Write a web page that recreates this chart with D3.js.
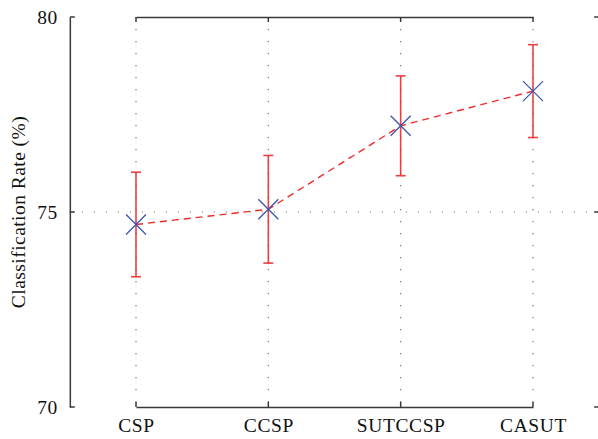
<!DOCTYPE html>
<html><head><meta charset="utf-8">
<script src="https://cdn.jsdelivr.net/npm/d3@7/dist/d3.min.js"></script>
<style>body{margin:0;background:#fff}svg{display:block}</style>
</head><body>
<svg id="c" width="598" height="439"></svg>
<script>
const categories = ["CSP", "CCSP", "SUTCCSP", "CASUT"];
const means = [74.68, 75.07, 77.21, 78.10];
const errors = [1.34, 1.38, 1.28, 1.19];
const yTicks = [70, 75, 80];

const svg = d3.select("#c");
const font = "'Liberation Serif','DejaVu Serif',serif";

const x = d3.scalePoint().domain(categories).range([136, 533]);
const step = x.step();
const x0 = x(categories[0]) - step / 2, x1 = x(categories[categories.length - 1]) + step / 2;
const y = d3.scaleLinear().domain([70, 80]).range([407, 17]);

const axisColor = "#3a3a3a";
// grid
const g = svg.append("g");
g.selectAll("line.vg").data(categories).join("line")
  .attr("x1", d => x(d)).attr("x2", d => x(d))
  .attr("y1", y(80)).attr("y2", y(70))
  .attr("stroke", "#777").attr("stroke-width", 1.2).attr("stroke-dasharray", "1.2,10.8");
g.selectAll("line.hg").data([75]).join("line")
  .attr("x1", x0).attr("x2", x1)
  .attr("y1", d => y(d)).attr("y2", d => y(d))
  .attr("stroke", "#777").attr("stroke-width", 1.2).attr("stroke-dasharray", "1.2,10.8");

// axes
const xb = svg.append("g").attr("transform", `translate(0,${y(70)})`)
  .call(d3.axisBottom(x).tickSize(0).tickPadding(11));
const xt = svg.append("g").attr("transform", `translate(0,${y(80)})`)
  .call(d3.axisTop(x).tickSize(0).tickFormat(""));
const yl = svg.append("g").attr("transform", `translate(${x0},0)`)
  .call(d3.axisLeft(y).tickValues(yTicks).tickSize(0).tickPadding(12));
const yr = svg.append("g").attr("transform", `translate(${x1},0)`)
  .call(d3.axisRight(y).tickValues(yTicks).tickSize(0).tickFormat(""));
[xb, xt, yl, yr].forEach(a => {
  a.attr("font-size", null).attr("font-family", null);
  a.select(".domain").attr("stroke", axisColor).attr("stroke-width", 1.5);
  a.selectAll("text").style("font-family", font).style("font-size", "19.5px")
    .style("letter-spacing", "0.6px").attr("fill", "#111");
});
// inward ticks
svg.append("g").selectAll("line").data(categories).join("line")
  .attr("x1", d => x(d)).attr("x2", d => x(d)).attr("y1", y(70)).attr("y2", y(70) - 5)
  .attr("stroke", axisColor).attr("stroke-width", 1.5);
svg.append("g").selectAll("line").data(categories).join("line")
  .attr("x1", d => x(d)).attr("x2", d => x(d)).attr("y1", y(80)).attr("y2", y(80) + 5)
  .attr("stroke", axisColor).attr("stroke-width", 1.5);
svg.append("g").selectAll("line").data(yTicks).join("line")
  .attr("x1", x0).attr("x2", x0 + 5).attr("y1", d => y(d)).attr("y2", d => y(d))
  .attr("stroke", axisColor).attr("stroke-width", 1.5);
svg.append("g").selectAll("line").data(yTicks).join("line")
  .attr("x1", x1 - 5).attr("x2", x1).attr("y1", d => y(d)).attr("y2", d => y(d))
  .attr("stroke", axisColor).attr("stroke-width", 1.5);

// y label
svg.append("text").attr("transform", `translate(25,${(y(70) + y(80)) / 2}) rotate(-90)`)
  .attr("text-anchor", "middle").style("font-family", font).style("font-size", "19.5px")
  .style("letter-spacing", "0.45px")
  .attr("fill", "#111").text("Classification Rate (%)");

const data = categories.map((c, i) => ({c, m: means[i], e: errors[i]}));
const red = "#ee2b2b";
// error bars
const eb = svg.append("g").attr("stroke", red).attr("stroke-width", 1.6).attr("opacity", 0.9);
eb.selectAll("line.v").data(data).join("line")
  .attr("x1", d => x(d.c)).attr("x2", d => x(d.c))
  .attr("y1", d => y(d.m + d.e)).attr("y2", d => y(d.m - d.e));
eb.selectAll("line.t").data(data).join("line")
  .attr("x1", d => x(d.c) - 5).attr("x2", d => x(d.c) + 5)
  .attr("y1", d => y(d.m + d.e)).attr("y2", d => y(d.m + d.e));
eb.selectAll("line.b").data(data).join("line")
  .attr("x1", d => x(d.c) - 5).attr("x2", d => x(d.c) + 5)
  .attr("y1", d => y(d.m - d.e)).attr("y2", d => y(d.m - d.e));

// dashed line
svg.append("path").datum(data)
  .attr("d", d3.line().x(d => x(d.c)).y(d => y(d.m)))
  .attr("fill", "none").attr("stroke", red).attr("stroke-width", 1.4)
  .attr("stroke-dasharray", "7,5");

// X markers
const s = 10;
const mk = svg.append("g").attr("stroke", "#3b55b0").attr("stroke-width", 1.3);
mk.selectAll("path").data(data).join("path")
  .attr("d", d => { const cx = x(d.c), cy = y(d.m);
    return `M${cx - s},${cy - s}L${cx + s},${cy + s}M${cx - s},${cy + s}L${cx + s},${cy - s}`; })
  .attr("fill", "none");
</script>
</body></html>
